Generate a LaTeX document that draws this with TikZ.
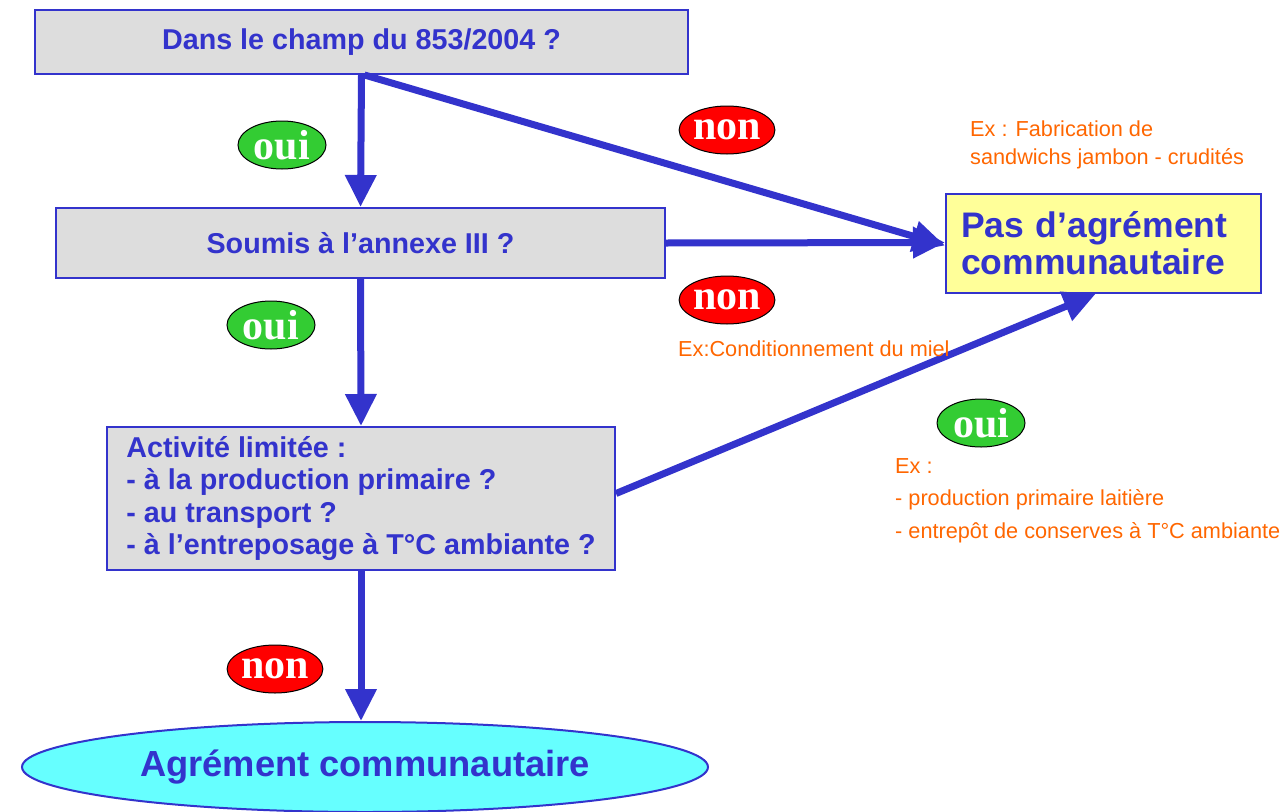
\documentclass[tikz,border=0pt]{standalone}
\usepackage{fontspec}
\setmainfont{Liberation Sans}
\newfontfamily\badgefont{Liberation Serif}
\usetikzlibrary{arrows.meta,shapes.geometric}
\definecolor{dblue}{HTML}{3333CC}
\definecolor{qgray}{HTML}{DDDDDD}
\definecolor{pyellow}{HTML}{FFFF99}
\definecolor{pcyan}{HTML}{66FFFF}
\definecolor{ygreen}{HTML}{33CC33}
\definecolor{nred}{HTML}{FF0000}
\definecolor{orng}{HTML}{FF6600}
\tikzset{
  qbox/.style={draw=dblue, line width=2pt, fill=qgray, inner sep=0pt, text=dblue,
    font=\fontsize{28.7}{32.5}\selectfont\bfseries},
  flow/.style={draw=dblue, line width=7pt, -{Triangle[width=30pt,length=32pt]}},
  badge/.style={ellipse, draw=black, line width=1pt, minimum width=88pt, minimum height=48pt,
    inner sep=0pt, text=white, font=\badgefont\fontsize{42}{42}\selectfont\bfseries},
  yes/.style={badge, fill=ygreen},
  no/.style={badge, fill=nred},
  note/.style={text=orng, font=\fontsize{21.7}{28}\selectfont, align=left, inner sep=0pt, anchor=north west}
}
\begin{document}
\begin{tikzpicture}[x=1pt,y=-1pt]
\useasboundingbox (0,0) rectangle (1284,811);
% boxes
\node[qbox, minimum width=653pt, minimum height=64pt] (b1) at (361.5,42) {Dans le champ du 853/2004 ?};
\node[qbox, minimum width=609pt, minimum height=70pt] (b2) at (360.5,243) {Soumis à l’annexe III ?};
\node[qbox, minimum width=508pt, minimum height=143pt, align=left] (b3) at (361,498.5)
  {Activité limitée :\\- à la production primaire ?\\- au transport ?\\- à l’entreposage à T°C ambiante ?};
\node[draw=dblue, line width=2pt, fill=pyellow, minimum width=315pt, minimum height=99pt, inner sep=0pt,
  text width=285pt, align=left, text=dblue, font=\fontsize{35.5}{37}\selectfont\bfseries] (pas) at (1103.5,243.5)
  {Pas d’agrément\\communautaire};
\node[ellipse, draw=dblue, line width=2pt, fill=pcyan, minimum width=686pt, minimum height=90pt, inner sep=0pt,
  text=dblue, font=\fontsize{36.3}{40}\selectfont\bfseries] (agr) at (365,767) {Agrément communautaire};
% connectors
\draw[flow] (b1.south) -- (b2.north);
\draw[flow] ([xshift=3pt]b1.south) -- ([yshift=-2pt]pas.west);
\draw[flow] (b2.east) -- ([yshift=1pt]pas.west);
\draw[flow] (b2.south) -- (b3.north);
\draw[flow] ([yshift=5pt]b3.east) -- ([xshift=-8pt]pas.south);
\draw[flow] (b3.south) -- (b3.south |- agr.north);
% badges
\node[yes] (y1) at (282,145) {oui};
\node[yes] (y2) at (271,325) {oui};
\node[no] (n1) at (727,130) {non};
\node[no] (n2) at (727,300) {non};
\node[yes] (y3) at (981,423) {oui};
\node[no] (n3) at (275,669) {non};
% notes
\node[note] (e1) at (970,121) {Ex : Fabrication de\\sandwichs jambon - crudités};
\node[note] (e2) at (678,341) {Ex:Conditionnement du miel};
\node[note, font=\fontsize{21.7}{32.5}\selectfont] (e3) at (895,458) {Ex :\\- production primaire laitière\\- entrepôt de conserves à T°C ambiante};
\end{tikzpicture}
\end{document}
